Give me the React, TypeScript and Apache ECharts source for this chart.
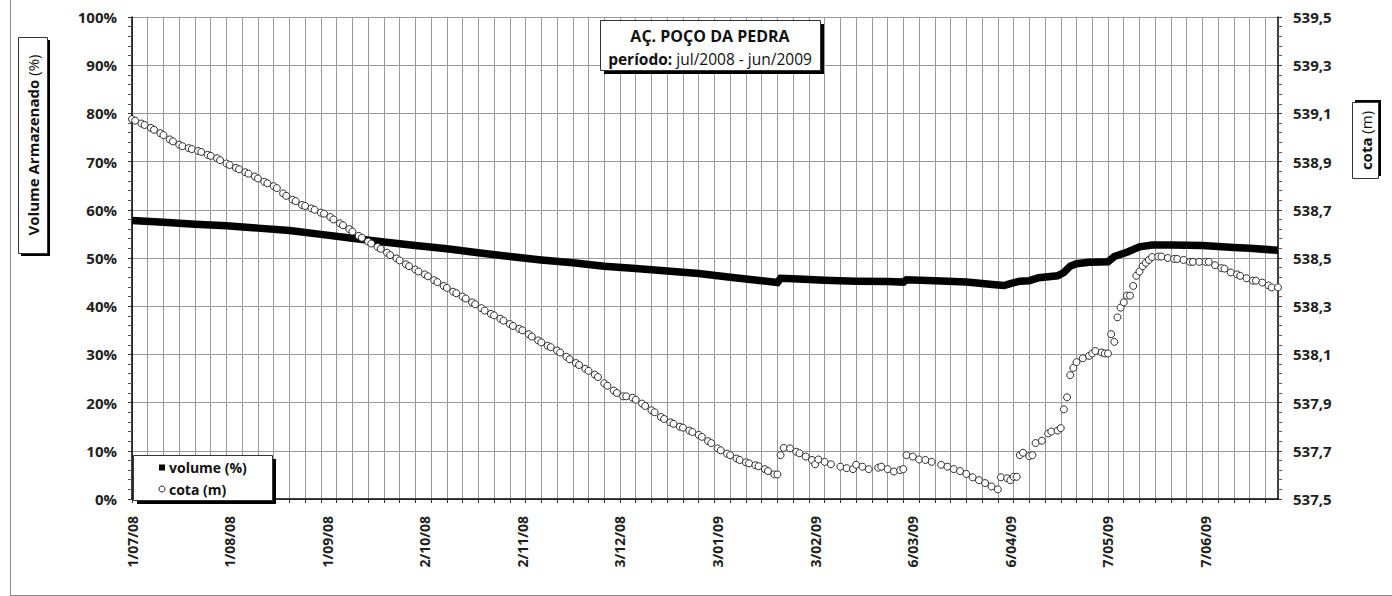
import React, { useEffect, useRef } from "react";
import * as echarts from "echarts";

// ---- categories: one per day, 1/07/08 .. 30/06/09 ----
const START_UTC = Date.UTC(2008, 6, 1);
const DAY_COUNT = 365;
const categories: string[] = Array.from({ length: DAY_COUNT }, (_, i) => {
  const d = new Date(START_UTC + i * 86400000);
  return `${d.getUTCDate()}/${String(d.getUTCMonth() + 1).padStart(2, "0")}/${String(d.getUTCFullYear() % 100).padStart(2, "0")}`;
});

// ---- volume (%) : day index -> value ----
const volumeDays = [0, 10, 20, 30, 40, 50, 60, 70, 80, 90, 100, 110, 120, 130, 140, 150, 160, 170, 180, 190, 200, 205, 206, 210, 220, 230, 240, 245, 246, 255, 265, 275, 277, 279, 282, 285, 288, 294, 296, 298, 300, 304, 310, 312, 316, 320, 324, 330, 340, 345, 350, 355, 364];
const volumePct = [57.8, 57.4, 57.0, 56.7, 56.2, 55.7, 54.9, 54.1, 53.3, 52.6, 51.9, 51.1, 50.3, 49.6, 49.0, 48.3, 47.8, 47.3, 46.8, 46.0, 45.3, 44.9, 45.8, 45.7, 45.4, 45.2, 45.1, 45.0, 45.5, 45.3, 45.0, 44.4, 44.3, 44.7, 45.2, 45.3, 45.9, 46.3, 47.0, 48.3, 48.8, 49.1, 49.2, 50.3, 51.2, 52.3, 52.7, 52.7, 52.6, 52.4, 52.2, 52.0, 51.6];

// ---- cota (m) : day index -> value ----
const cotaDays = [
  0, 1, 3, 4, 6, 7, 9, 10, 12, 13, 15, 16, 18, 19, 21, 22, 24, 25, 27, 28, 30, 31, 33, 34, 36, 37, 39, 40,
  42, 43, 45, 46, 48, 49, 51, 52, 54, 55, 57, 58, 60, 61, 63, 64, 66, 67, 69, 70, 72, 73, 75, 76, 78, 79,
  81, 82, 84, 85, 87, 88, 90, 91, 93, 94, 96, 97, 99, 100, 102, 103, 105, 106, 108, 109, 111, 112, 114, 115,
  117, 118, 120, 121, 123, 124, 126, 127, 129, 130, 132, 133, 135, 136, 138, 139, 141, 142, 144, 145, 147, 148,
  150, 151, 153, 154, 156, 157, 159, 160, 162, 163, 165, 166, 168, 169, 171, 172, 174, 175, 177, 178, 180, 181,
  183, 184, 186, 187, 189, 190, 192, 193, 195, 196, 198, 199, 201, 202, 204,
  205, 206, 207, 209, 211, 212, 214, 216, 217, 218, 220, 222, 225, 227, 229, 230, 232, 234, 237, 238,
  240, 242, 244, 245, 246, 248, 250, 252, 254, 257, 259, 261, 263, 265, 267, 269, 271, 273, 275, 276,
  278, 279, 280, 281, 282, 283, 285, 286, 287, 289, 291, 292, 294, 295, 296, 297, 298, 299, 300, 302,
  304, 305, 306, 308, 309, 310, 311, 312, 313, 314, 315, 316, 317, 318, 319, 320, 321, 322, 323, 324,
  326, 327, 329, 331, 332, 334, 336, 337, 339, 341, 342, 344, 346, 347, 349, 351, 352, 354, 356, 357,
  359, 361, 362, 364,
];
const cotaM = [
  539.076, 539.07, 539.058, 539.052, 539.04, 539.032, 539.018, 539.01, 538.992, 538.984, 538.97, 538.964, 538.956, 538.952, 538.944, 538.94, 538.928, 538.924, 538.914, 538.906, 538.892, 538.886, 538.874, 538.868, 538.856, 538.85, 538.838, 538.83,
  538.816, 538.81, 538.798, 538.79, 538.768, 538.758, 538.742, 538.736, 538.72, 538.716, 538.706, 538.7, 538.688, 538.684, 538.67, 538.66, 538.644, 538.636, 538.62, 538.61, 538.592, 538.584, 538.568, 538.56, 538.546, 538.538,
  538.522, 538.512, 538.498, 538.49, 538.474, 538.466, 538.452, 538.444, 538.432, 538.424, 538.408, 538.4, 538.384, 538.376, 538.36, 538.354, 538.34, 538.332, 538.316, 538.308, 538.292, 538.282, 538.268, 538.262,
  538.248, 538.24, 538.226, 538.218, 538.206, 538.2, 538.184, 538.174, 538.158, 538.15, 538.136, 538.13, 538.116, 538.108, 538.09, 538.08, 538.064, 538.056, 538.04, 538.032, 538.016, 538.006,
  537.98, 537.97, 537.95, 537.94, 537.926, 537.926, 537.92, 537.912, 537.896, 537.886, 537.868, 537.86, 537.84, 537.832, 537.818, 537.812, 537.8, 537.796, 537.784, 537.778, 537.766, 537.758,
  537.74, 537.732, 537.71, 537.702, 537.688, 537.682, 537.668, 537.662, 537.652, 537.648, 537.64, 537.636, 537.624, 537.616, 537.602,
  537.602, 537.682, 537.712, 537.71, 537.696, 537.69, 537.676, 537.662, 537.644, 537.664, 537.654, 537.644, 537.634, 537.628, 537.624, 537.642, 537.634, 537.624, 537.63, 537.634,
  537.624, 537.614, 537.62, 537.624, 537.682, 537.676, 537.664, 537.662, 537.654, 537.642, 537.634, 537.624, 537.616, 537.604, 537.59, 537.578, 537.566, 537.552, 537.54, 537.59,
  537.586, 537.578, 537.592, 537.592, 537.682, 537.692, 537.678, 537.682, 537.732, 537.742, 537.772, 537.78, 537.784, 537.794, 537.872, 537.922, 538.014, 538.044, 538.068, 538.084,
  538.094, 538.104, 538.114, 538.108, 538.104, 538.104, 538.184, 538.152, 538.254, 538.294, 538.316, 538.344, 538.344, 538.384, 538.426, 538.444, 538.466, 538.48, 538.492, 538.504,
  538.506, 538.506, 538.5, 538.496, 538.496, 538.492, 538.484, 538.484, 538.484, 538.484, 538.484, 538.47, 538.458, 538.456, 538.44, 538.432, 538.426, 538.416, 538.406, 538.406,
  538.398, 538.386, 538.378, 538.378,
];

// axis scale of the right axis (m), mapped onto the same 0..100 grid
const COTA_MIN = 537.5;
const COTA_MAX = 539.5;

const FONT = '"Open Sans", "Noto Sans", sans-serif';

export default function App() {
  const ref = useRef<HTMLDivElement>(null);

  useEffect(() => {
    if (!ref.current) return;
    const chart = echarts.init(ref.current, null, { renderer: "svg" });
    const toPct = (m: number) => ((m - COTA_MIN) / (COTA_MAX - COTA_MIN)) * 100;

    const volumeData = volumeDays.map((d, i) => [d, volumePct[i]]);
    const cotaData = cotaDays.map((d, i) => [d, toPct(cotaM[i])]);

    const labelColor = "#1e1e1e";
    const gridColor = "#9a9a9a";

    chart.setOption({
      animation: false,
      backgroundColor: "#ffffff",
      textStyle: { fontFamily: FONT },
      grid: { left: 132, right: 114, top: 17, bottom: 97, containLabel: false },
      xAxis: {
        type: "category",
        data: categories,
        boundaryGap: false,
        axisLine: { show: true, lineStyle: { color: "#000", width: 1.5 } },
        axisTick: { show: true, interval: (i: number) => i % 5 === 0, length: 4, lineStyle: { color: "#333" } },
        axisLabel: {
          interval: (i: number) => i % 31 === 0,
          rotate: 90,
          margin: 17,
          fontSize: 14,
          fontWeight: "bold",
          color: labelColor,
          fontFamily: FONT,
        },
        splitLine: { show: true, interval: (i: number) => i % 5 === 0, lineStyle: { color: gridColor, width: 1 } },
      },
      yAxis: [
        {
          type: "value",
          min: 0,
          max: 100,
          interval: 10,
          position: "left",
          axisLine: { show: true, lineStyle: { color: "#000", width: 1.5 } },
          axisTick: { show: true, length: 4, lineStyle: { color: "#333" } },
          minorTick: { show: true, splitNumber: 5, length: 4, lineStyle: { color: "#555" } },
          axisLabel: { formatter: "{value}%", fontSize: 15, fontWeight: "bold", color: labelColor, margin: 15, fontFamily: FONT },
          splitLine: { show: true, lineStyle: { color: gridColor, width: 1 } },
        },
        {
          type: "value",
          min: 0,
          max: 100,
          interval: 10,
          position: "right",
          axisLine: { show: true, lineStyle: { color: "#000", width: 1.5 } },
          axisTick: { show: true, length: 4, lineStyle: { color: "#333" } },
          minorTick: { show: true, splitNumber: 5, length: 4, lineStyle: { color: "#555" } },
          axisLabel: {
            formatter: (v: number) => (COTA_MIN + (v / 100) * (COTA_MAX - COTA_MIN)).toFixed(1).replace(".", ","),
            fontSize: 15,
            fontWeight: "bold",
            color: labelColor,
            margin: 15,
            fontFamily: FONT,
          },
          splitLine: { show: false },
        },
      ],
      series: [
        {
          name: "volume (%)",
          type: "line",
          yAxisIndex: 0,
          data: volumeData,
          showSymbol: false,
          symbol: "none",
          lineStyle: { color: "#000", width: 7.5, cap: "butt", join: "miter" },
          z: 3,
        },
        {
          name: "cota (m)",
          type: "scatter",
          yAxisIndex: 1,
          data: cotaData,
          symbol: "circle",
          symbolSize: 7,
          itemStyle: { color: "#ffffff", borderColor: "#2a2a2a", borderWidth: 1, opacity: 1 },
          z: 4,
        },
      ],
      graphic: [
        // outer chart border
        { type: "line", shape: { x1: 10.5, y1: 0, x2: 10.5, y2: 595.5 }, style: { stroke: "#8a8a8a", lineWidth: 1 }, z: 50 },
        { type: "line", shape: { x1: 10, y1: 595.5, x2: 1392, y2: 595.5 }, style: { stroke: "#8a8a8a", lineWidth: 1 }, z: 50 },

        // title box
        { type: "rect", shape: { x: 604, y: 24, width: 220, height: 50 }, style: { fill: "#000" }, z: 100 },
        { type: "rect", shape: { x: 600.5, y: 20.5, width: 220, height: 50 }, style: { fill: "#fff", stroke: "#333", lineWidth: 1 }, z: 101 },
        {
          type: "text",
          x: 710,
          y: 36,
          style: { text: "AÇ. POÇO DA PEDRA", font: `bold 16px ${FONT}`, fill: "#111", textAlign: "center", textVerticalAlign: "middle", align: "center", verticalAlign: "middle" },
          z: 102,
        },
        {
          type: "text",
          x: 710,
          y: 59,
          style: {
            text: "{b|período:} {r|jul/2008 - jun/2009}",
            rich: {
              b: { font: `bold 15.5px ${FONT}`, fill: "#111" },
              r: { font: `15.5px ${FONT}`, fill: "#111" },
            },
            font: `15.5px ${FONT}`,
            fill: "#111",
            textAlign: "center",
            textVerticalAlign: "middle",
            align: "center",
            verticalAlign: "middle",
          },
          z: 102,
        },

        // legend box
        { type: "rect", shape: { x: 137, y: 459, width: 139, height: 45 }, style: { fill: "#000" }, z: 100 },
        { type: "rect", shape: { x: 133.5, y: 455.5, width: 139, height: 45 }, style: { fill: "#fff", stroke: "#333", lineWidth: 1 }, z: 101 },
        { type: "rect", shape: { x: 159, y: 464.5, width: 6, height: 6 }, style: { fill: "#000" }, z: 102 },
        {
          type: "text",
          x: 169,
          y: 467.5,
          style: { text: "volume (%)", font: `bold 14px ${FONT}`, fill: "#111", textVerticalAlign: "middle", verticalAlign: "middle" },
          z: 102,
        },
        { type: "circle", shape: { cx: 162, cy: 489, r: 3 }, style: { fill: "#fff", stroke: "#222", lineWidth: 1 }, z: 102 },
        {
          type: "text",
          x: 169,
          y: 489,
          style: { text: "cota (m)", font: `bold 14px ${FONT}`, fill: "#111", textVerticalAlign: "middle", verticalAlign: "middle" },
          z: 102,
        },

        // left axis title box
        { type: "rect", shape: { x: 21, y: 40, width: 29, height: 216 }, style: { fill: "#000" }, z: 100 },
        { type: "rect", shape: { x: 18.5, y: 37.5, width: 29, height: 216 }, style: { fill: "#fff", stroke: "#333", lineWidth: 1 }, z: 101 },
        {
          type: "text",
          x: 33,
          y: 145,
          rotation: Math.PI / 2,
          style: {
            text: "{b|Volume Armazenado} {r|(%)}",
            rich: {
              b: { font: `bold 15px ${FONT}`, fill: "#111" },
              r: { font: `15px ${FONT}`, fill: "#111" },
            },
            font: `15px ${FONT}`,
            textAlign: "center",
            textVerticalAlign: "middle",
            align: "center",
            verticalAlign: "middle",
          },
          z: 102,
        },

        // right axis title box
        { type: "rect", shape: { x: 1355, y: 100, width: 26, height: 76 }, style: { fill: "#000" }, z: 100 },
        { type: "rect", shape: { x: 1352.5, y: 102.5, width: 26, height: 76 }, style: { fill: "#fff", stroke: "#333", lineWidth: 1 }, z: 101 },
        {
          type: "text",
          x: 1365.5,
          y: 140.5,
          rotation: Math.PI / 2,
          style: {
            text: "{b|cota} {r|(m)}",
            rich: {
              b: { font: `bold 15px ${FONT}`, fill: "#111" },
              r: { font: `15px ${FONT}`, fill: "#111" },
            },
            font: `15px ${FONT}`,
            textAlign: "center",
            textVerticalAlign: "middle",
            align: "center",
            verticalAlign: "middle",
          },
          z: 102,
        },
      ],
    });

    return () => chart.dispose();
  }, []);

  return (
    <div
      ref={ref}
      style={{ position: "fixed", left: 0, top: 0, width: 1392, height: 596, background: "#fff" }}
    />
  );
}
